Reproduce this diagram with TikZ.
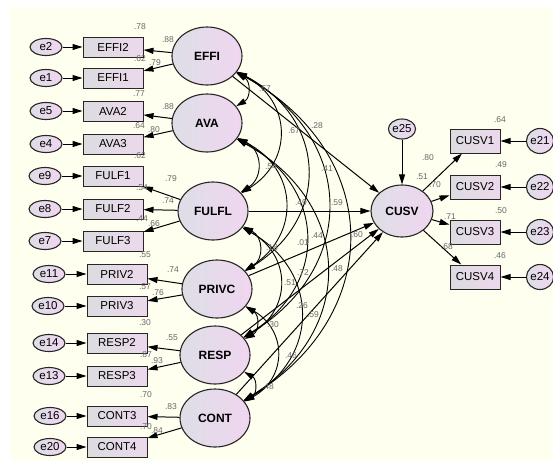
\documentclass[tikz,border=0pt]{standalone}
\usepackage{fontspec}
\setmainfont{Liberation Sans}
\usetikzlibrary{arrows.meta,shapes.geometric}
\definecolor{bgc}{RGB}{255,255,240}
\definecolor{numc}{RGB}{105,105,105}
\definecolor{lfL}{RGB}{222,222,230}
\definecolor{lfR}{RGB}{240,214,240}
\definecolor{bxL}{RGB}{220,220,224}
\definecolor{bxR}{RGB}{236,216,236}
\begin{document}
\begin{tikzpicture}[x=1pt,y=-1pt,
  lat/.style={ellipse, draw=black!85, line width=1.1pt, minimum width=70pt, minimum height=58pt, inner sep=0pt, left color=lfL, right color=lfR, font=\bfseries\fontsize{12}{12}\selectfont},
  obs/.style={rectangle, draw=black!85, line width=1pt, minimum width=60pt, minimum height=20pt, inner sep=0pt, left color=bxL, right color=bxR, font=\fontsize{11.5}{12}\selectfont},
  err/.style={ellipse, draw=black!85, line width=1.1pt, minimum width=32pt, minimum height=17pt, inner sep=0pt, left color=lfL, right color=lfR, font=\fontsize{11.5}{12}\selectfont},
  num/.style={text=numc, font=\fontsize{8.5}{9}\selectfont, inner sep=0pt},
  arr/.style={-{Triangle[length=10pt,width=6pt]}, line width=1pt},
  cov/.style={{Triangle[length=10pt,width=6pt]}-{Triangle[length=10pt,width=6pt]}, line width=0.9pt, bend left=60, looseness=1.3}]
\useasboundingbox (0,0) rectangle (553,461);
\fill[white] (0,0) rectangle (553,461);
\fill[bgc] (10,7) rectangle (553,461);

% latent variables
\node[lat] (EFFI) at (207,56) {EFFI};
\node[lat] (AVA) at (207,123) {AVA};
\node[lat] (FULFL) at (213,211) {FULFL};
\node[lat] (PRIVC) at (217,289) {PRIVC};
\node[lat] (RESP) at (215,355) {RESP};
\node[lat] (CONT) at (215,418) {CONT};
\node[lat, minimum width=62pt, minimum height=52pt] (CUSV) at (402,211) {CUSV};

% indicators and errors (left)
\foreach \e/\b/\x/\ex/\y in {e2/EFFI2/113/46/47, e1/EFFI1/113/46/78, e5/AVA2/113/46/111, e4/AVA3/113/46/144,
  e9/FULF1/113/45/176, e8/FULF2/113/45/209, e7/FULF3/113/45/241, e11/PRIV2/117/49/274, e10/PRIV3/117/48/306,
  e14/RESP2/117/49/343, e13/RESP3/117/49/376, e16/CONT3/117/50/416, e20/CONT4/117/50/447}{
  \node[obs] (\b) at (\x,\y) {\b};
  \node[err] (\e) at (\ex,\y) {\e};
  \draw[arr] (\e) -- (\b);
}
\foreach \l/\b in {EFFI/EFFI2, EFFI/EFFI1, AVA/AVA2, AVA/AVA3, FULFL/FULF1, FULFL/FULF2, FULFL/FULF3,
  PRIVC/PRIV2, PRIVC/PRIV3, RESP/RESP2, RESP/RESP3, CONT/CONT3, CONT/CONT4}{
  \draw[arr] (\l) -- (\b);
}

% right side
\node[err, minimum width=26pt, minimum height=20pt] (e25) at (402,129) {e25};
\draw[arr] (e25) -- (CUSV);
\foreach \b/\e/\y in {CUSV1/e21/141, CUSV2/e22/187, CUSV3/e23/232, CUSV4/e24/277}{
  \node[obs, minimum width=50pt, minimum height=24pt] (\b) at (475,\y) {\b};
  \node[err, minimum width=25pt, minimum height=25pt] (\e) at (540,\y) {\e};
  \draw[arr] (\e) -- (\b);
  \draw[arr] (CUSV) -- (\b);
}

% structural paths
\foreach \l in {EFFI, FULFL, PRIVC, RESP, CONT}{
  \draw[arr] (\l) -- (CUSV);
}

% covariances
\draw[cov] (EFFI) to (AVA);
\draw[cov] (EFFI) to (FULFL);
\draw[cov] (EFFI) to (PRIVC);
\draw[cov] (EFFI) to (RESP);
\draw[cov] (EFFI) to (CONT);
\draw[cov] (AVA) to (FULFL);
\draw[cov] (AVA) to (PRIVC);
\draw[cov] (AVA) to (RESP);
\draw[cov] (AVA) to (CONT);
\draw[cov] (FULFL) to (PRIVC);
\draw[cov] (FULFL) to (RESP);
\draw[cov] (FULFL) to (CONT);
\draw[cov] (PRIVC) to (RESP);
\draw[cov] (PRIVC) to (CONT);
\draw[cov] (RESP) to (CONT);

% numbers left
\foreach \t/\x/\y [count=\i] in {.78/140/27, .88/168/40, .62/140/59, .79/155/63, .77/139/94, .88/168/107,
  .64/139/126, .80/154/130, .62/140/156, .79/171/179, .54/142/188, .74/168/201, .44/142/219, .66/154/224,
  .55/145/255, .74/173/270, .57/145/287, .76/158/293, .30/145/323, .55/172/338, .87/146/355, .93/157/361,
  .70/146/395, .83/171/407, .70/146/427, .84/157/431}{
  \node[num] (nl\i) at (\x,\y) {\t};
}
% numbers middle
\foreach \t/\x/\y [count=\i] in {.57/265/89, .67/294/131, .28/317/126, .41/327/169, .54/271/167, .49/301/203,
  .59/337/203, .01/303/243, .44/317/236, .60/357/235, .18/272/248, .72/303/273, .48/337/269, .51/290/283,
  .26/302/306, .59/313/315, .30/273/325, .46/291/356, .48/268/387}{
  \node[num] (nm\i) at (\x,\y) {\t};
}
% numbers right
\foreach \t/\x/\y [count=\i] in {.64/500/120, .49/501/165, .50/501/211, .46/500/256, .80/428/158, .51/422/177,
  .70/435/185, .71/450/217, .68/447/247}{
  \node[num] (nr\i) at (\x,\y) {\t};
}
\end{tikzpicture}
\end{document}
